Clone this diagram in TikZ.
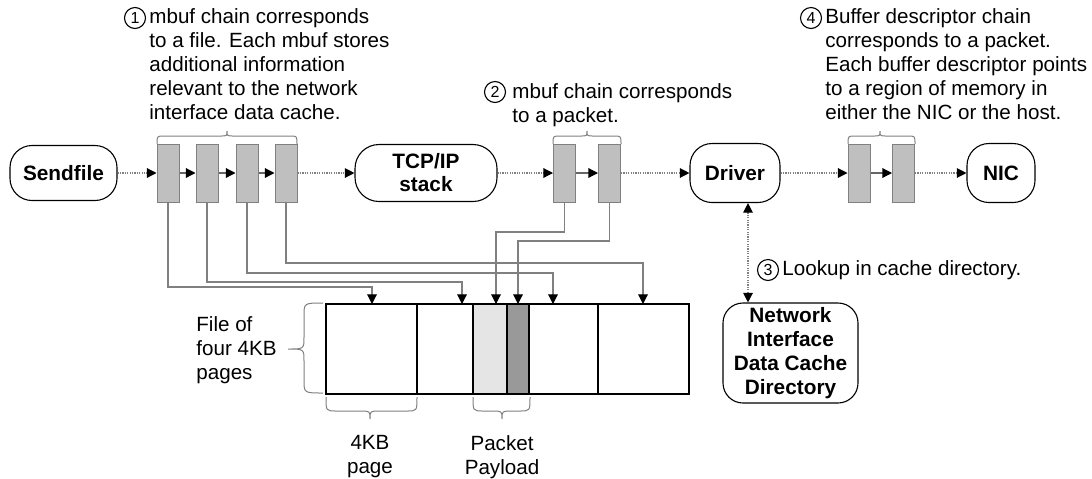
\documentclass[tikz,border=0pt]{standalone}
\usepackage{fontspec}
\setmainfont{Liberation Sans}
\usetikzlibrary{arrows.meta,calc}
% horizontal brace: #1 left x, #2 right x, #3 tip x, #4 end y, #5 body y, #6 tip y, #7 shoulder
\newcommand\myhbrace[7]{%
  \draw[bracel] (#1,#4) .. controls (#1,#5) .. ({#1+#7},#5) -- ({#3-#7},#5)
    .. controls (#3,#5) .. (#3,#6) .. controls (#3,#5) .. ({#3+#7},#5)
    -- ({#2-#7},#5) .. controls (#2,#5) .. (#2,#4);}
\begin{document}
\begin{tikzpicture}[x=0.5pt,y=-0.5pt,
  every node/.style={inner sep=0pt},
  rbox/.style={draw=black, line width=0.55pt, font=\fontsize{10.4}{12}\selectfont\bfseries, align=center},
  mb/.style={draw=gray, fill=gray!50, line width=0.5pt, minimum width=11pt, minimum height=29pt},
  flow/.style={draw=gray, line width=0.6pt, dash pattern=on 0.6pt off 0.6pt, -{Triangle[length=4.8pt,width=4.8pt,color=black]}},
  flowboth/.style={draw=gray, line width=0.6pt, dash pattern=on 0.6pt off 0.6pt, {Triangle[length=4.8pt,width=4.8pt,color=black]}-{Triangle[length=4.8pt,width=4.8pt,color=black]}},
  link/.style={draw=gray!80!black, line width=0.6pt, -{Triangle[length=4.8pt,width=4.8pt,color=black]}},
  ptr/.style={draw=gray, line width=0.55pt, -{Triangle[length=4.8pt,width=4.8pt,color=black]}},
  bracel/.style={draw=gray, line width=0.5pt},
  txt/.style={font=\fontsize{10.3}{12}\selectfont, align=left},
  circnum/.style={draw, circle, line width=0.55pt, minimum size=10.5pt, inner sep=0pt, font=\fontsize{8}{8}\selectfont}
]
\useasboundingbox (0,0) rectangle (1092,478);

% top row
\node[rbox, minimum width=53.5pt, minimum height=27.5pt, rounded corners=11pt] (send) at (63.5,173) {Sendfile};
\node[mb] (m1) at (168,173) {};
\node[mb] (m2) at (207,173) {};
\node[mb] (m3) at (247,173) {};
\node[mb] (m4) at (286,173) {};
\node[rbox, minimum width=71pt, minimum height=28.5pt, rounded corners=12pt, font=\fontsize{10.4}{11.5}\selectfont\bfseries] (tcp) at (426,173) {TCP/IP\\stack};
\node[mb] (p1) at (564.5,173) {};
\node[mb] (p2) at (609.5,173) {};
\node[rbox, minimum width=45pt, minimum height=29.5pt, rounded corners=11pt] (drv) at (735,173) {Driver};
\node[mb] (d1) at (859,173) {};
\node[mb] (d2) at (903.5,173) {};
\node[rbox, minimum width=34pt, minimum height=29.5pt, rounded corners=11pt] (nic) at (1001,173) {NIC};
\node[rbox, minimum width=67.5pt, minimum height=50pt, rounded corners=10pt] (dir) at (790.5,353) {Network\\Interface\\Data Cache\\Directory};

\draw[flow] (send) -- (m1);
\draw[link] (m1) -- (m2);
\draw[link] (m2) -- (m3);
\draw[link] (m3) -- (m4);
\draw[flow] (m4) -- (tcp);
\draw[flow] (tcp) -- (p1);
\draw[link] (p1) -- (p2);
\draw[flow] (p2) -- (drv);
\draw[flow] (drv) -- (d1);
\draw[link] (d1) -- (d2);
\draw[flow] (d2) -- (nic);

\coordinate (lk) at (748,0);
\draw[flowboth] (drv.south -| lk) -- (dir.north -| lk);

% file of pages
\fill[gray!20] (473,304) rectangle (507,394);
\fill[gray!80] (507,304) rectangle (529,394);
\draw[line width=0.6pt] (473,304) -- (473,394);
\draw[line width=0.6pt] (529,304) -- (529,394);
\draw[line width=1.3pt] (417,304) -- (417,394);
\draw[line width=1.3pt] (507,304) -- (507,394);
\draw[line width=1.3pt] (598,304) -- (598,394);
\node[draw, line width=1.3pt, minimum width=181.5pt, minimum height=45pt] (file) at (507.5,349) {};

\coordinate (t1) at (372,304);
\coordinate (t2) at (462,304);
\coordinate (t3) at (553,304);
\coordinate (t4) at (643,304);
\coordinate (t5) at (496,304);
\coordinate (t6) at (518,304);
\draw[ptr] (m1.south) -- (m1.south |- 0,287) -| (t1);
\draw[ptr] (m2.south) -- (m2.south |- 0,282) -| (t2);
\draw[ptr] (m3.south) -- (m3.south |- 0,273) -| (t3);
\draw[ptr] (m4.south) -- (m4.south |- 0,263) -| (t4);
\draw[ptr] (p1.south) -- (p1.south |- 0,232) -| (t5);
\draw[ptr] (p2.south) -- (p2.south |- 0,241) -| (t6);

% braces
\myhbrace{157}{297}{227}{144}{136}{131}{7}
\myhbrace{553}{621}{587}{144}{136}{131}{7}
\myhbrace{848}{915}{880}{144}{136}{131}{7}
\myhbrace{326}{417}{370}{397}{411}{419}{10}
\myhbrace{473}{530}{502}{397}{411}{419}{10}
\draw[bracel] (323,303) .. controls (304,303) .. (304,316) -- (304,337)
  .. controls (304,349) .. (288,349) .. controls (304,349) .. (304,361)
  -- (304,380) .. controls (304,393) .. (323,393);

% annotations
\node[circnum] (c1) at (135,18) {1};
\node[txt, anchor=north west] (n1) at (149,8.6) {mbuf chain corresponds\\to a file. Each mbuf stores\\additional information\\relevant to the network\\interface data cache.};
\node[circnum] (c2) at (495,92) {2};
\node[txt, anchor=north west] (n2) at (512,83.6) {mbuf chain corresponds\\to a packet.};
\node[circnum] (c4) at (811,18) {4};
\node[txt, anchor=north west] (n4) at (825,8.6) {Buffer descriptor chain\\corresponds to a packet.\\Each buffer descriptor points\\to a region of memory in\\either the NIC or the host.};
\node[circnum] (c3) at (768,270) {3};
\node[txt, anchor=west] (n3) at (782,270) {Lookup in cache directory.};
\node[txt, anchor=north west] (fl) at (196,316) {File of\\four 4KB\\pages};
\node[txt, align=center, anchor=north] (pg) at (370,435) {4KB\\page};
\node[txt, align=center, anchor=north] (pp) at (502,435) {Packet\\Payload};
\end{tikzpicture}
\end{document}
